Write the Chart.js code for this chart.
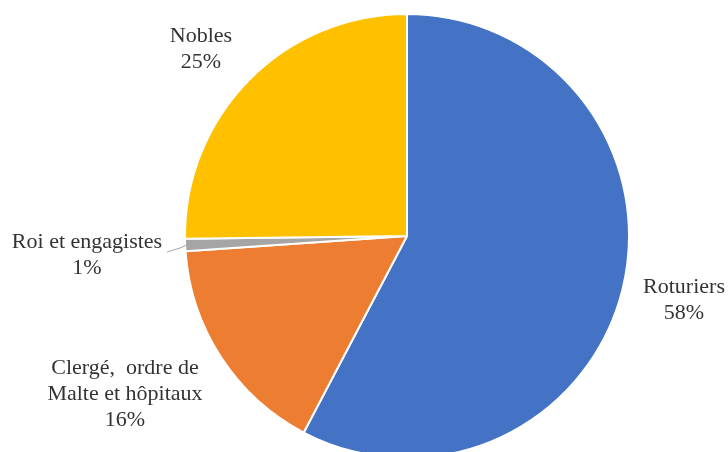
<!DOCTYPE html>
<html>
<head>
<meta charset="utf-8">
<script src="https://cdn.jsdelivr.net/npm/chart.js@4/dist/chart.umd.min.js"></script>
<style>
  html, body { margin: 0; padding: 0; background: #fff; overflow: hidden; }
  #wrap { width: 728px; height: 470px; }
</style>
</head>
<body>
<div id="wrap"><canvas id="pie" width="728" height="470"></canvas></div>
<script>
// data
var categories = ['Roturiers', 'Clergé, ordre de Malte et hôpitaux', 'Roi et engagistes', 'Nobles'];
var shares = [57.7, 16.2, 0.9, 25.2];
var labelLines = [
  ['Roturiers'],
  ['Clergé,  ordre de', 'Malte et hôpitaux'],
  ['Roi et engagistes'],
  ['Nobles']
];
var colors = ['#4472C4', '#ED7D31', '#A5A5A5', '#FFC000'];

// where the label blocks sit (center x, first baseline y)
var labelPos = [[684, 293], [125, 374], [87, 248], [201, 42]];

// draws the data labels outside the pie
const outsideLabels = {
  id: 'outsideLabels',
  afterDraw(chart) {
    var ctx = chart.ctx;
    var meta = chart.getDatasetMeta(0);
    var total = shares.reduce((a, b) => a + b, 0);
    ctx.save();
    ctx.font = '22px "Liberation Serif", "Times New Roman", serif';
    ctx.fillStyle = '#333333';
    ctx.textAlign = 'center';
    ctx.textBaseline = 'alphabetic';
    meta.data.forEach((arc, i) => {
      var lines = labelLines[i].concat([Math.round(shares[i] / total * 100) + '%']);
      var x = labelPos[i][0], y = labelPos[i][1];
      lines.forEach((t, k) => ctx.fillText(t, x, y + k * 26));

      // leader line for the thin slice
      if (i == 2) {
        var mid = (arc.startAngle + arc.endAngle) / 2;
        var px = arc.x + Math.cos(mid) * (arc.outerRadius - 2);
        var py = arc.y + Math.sin(mid) * (arc.outerRadius - 2);
        ctx.strokeStyle = '#A5A5A5';
        ctx.lineWidth = 1;
        ctx.beginPath();
        ctx.moveTo(x + 80, y + 4);
        ctx.lineTo(x + 93, y);
        ctx.lineTo(px, py);
        ctx.stroke();
      }
    });
    ctx.restore();
  }
};

new Chart(document.getElementById('pie'), {
  type: 'pie',
  data: {
    labels: categories,
    datasets: [{
      data: shares,
      backgroundColor: colors,
      borderColor: '#ffffff',
      borderWidth: 2,
      hoverOffset: 0
    }]
  },
  options: {
    responsive: false,
    animation: false,
    events: [],
    layout: { padding: { left: 184, right: 98, top: 13, bottom: 11 } },
    plugins: {
      legend: { display: false },
      tooltip: { enabled: false }
    }
  },
  plugins: [outsideLabels]
});
</script>
</body>
</html>
